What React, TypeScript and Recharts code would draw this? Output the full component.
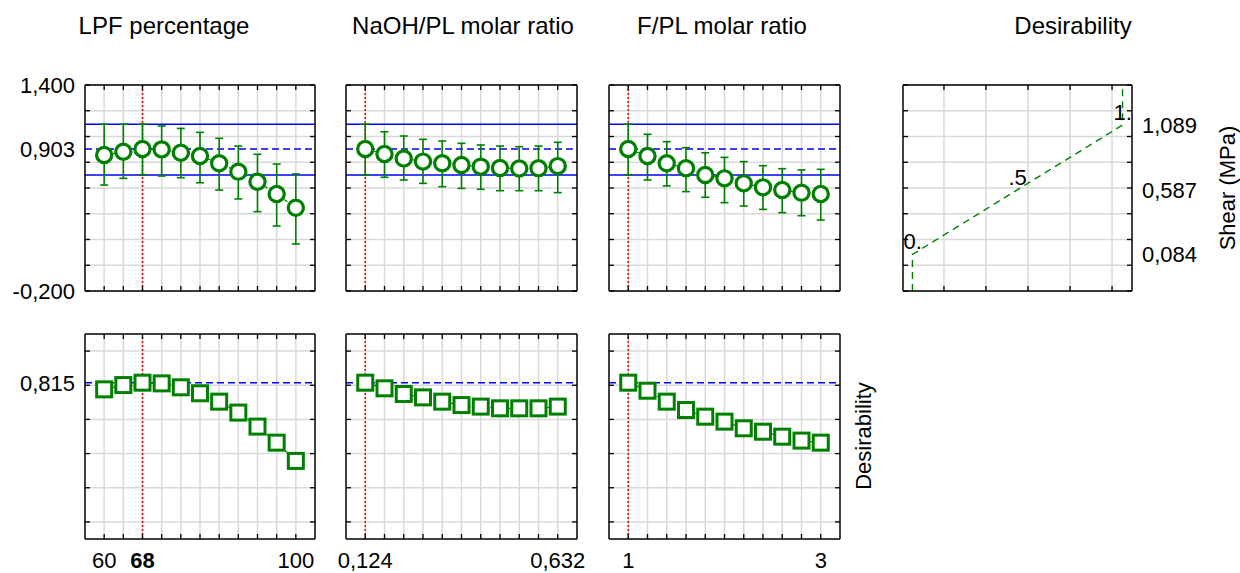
import React from 'react';
import { ComposedChart, Line, XAxis, YAxis, CartesianGrid, ReferenceLine, ErrorBar, Scatter } from 'recharts';

const FONT = 'Arial, "Liberation Sans", Helvetica, sans-serif';
const GREEN = '#008000';
const BLUE = '#0000ff';
const RED = '#ff0000';
const GRID = '#d9d9d9';

// ---------- data ----------
const lpfX = [60, 64, 68, 72, 76, 80, 84, 88, 92, 96, 100];
const lpfShear = [0.856, 0.882, 0.903, 0.900, 0.874, 0.849, 0.792, 0.727, 0.649, 0.553, 0.447];
const lpfShearLow = [0.623, 0.675, 0.701, 0.693, 0.680, 0.641, 0.584, 0.515, 0.416, 0.305, 0.165];
const lpfShearHigh = [1.095, 1.095, 1.096, 1.082, 1.063, 1.032, 0.986, 0.926, 0.862, 0.786, 0.709];
const lpfDesir = [0.776, 0.801, 0.815, 0.811, 0.788, 0.753, 0.704, 0.640, 0.558, 0.464, 0.357];

const naohX = [0.124, 0.1748, 0.2256, 0.2764, 0.3272, 0.378, 0.4288, 0.4796, 0.5304, 0.5812, 0.632];
const naohShear = [0.903, 0.864, 0.830, 0.805, 0.792, 0.779, 0.766, 0.755, 0.752, 0.754, 0.770];
const naohShearLow = [0.701, 0.683, 0.662, 0.636, 0.610, 0.597, 0.590, 0.579, 0.579, 0.579, 0.564];
const naohShearHigh = [1.096, 1.037, 1.004, 0.978, 0.965, 0.947, 0.934, 0.926, 0.921, 0.926, 0.955];
const naohDesir = [0.815, 0.782, 0.749, 0.729, 0.704, 0.684, 0.675, 0.665, 0.665, 0.665, 0.675];

const fplX = [1, 1.2, 1.4, 1.6, 1.8, 2, 2.2, 2.4, 2.6, 2.8, 3];
const fplShear = [0.903, 0.849, 0.792, 0.753, 0.701, 0.675, 0.636, 0.605, 0.584, 0.564, 0.553];
const fplShearLow = [0.701, 0.662, 0.616, 0.572, 0.528, 0.486, 0.460, 0.434, 0.408, 0.385, 0.351];
const fplShearHigh = [1.096, 1.017, 0.960, 0.913, 0.874, 0.838, 0.805, 0.773, 0.750, 0.740, 0.745];
const fplDesir = [0.815, 0.768, 0.704, 0.655, 0.616, 0.587, 0.548, 0.528, 0.499, 0.476, 0.464];

const lpfLabelValues = [60, 68, 100];
const lpfLabelTexts = ['60', '68', '100'];
const lpfLabelBold = [false, true, false];
const naohLabelValues = [0.124, 0.632];
const naohLabelTexts = ['0,124', '0,632'];
const fplLabelValues = [1, 3];
const fplLabelTexts = ['1', '3'];

const optLpf = 68;
const optNaoh = 0.124;
const optFpl = 1;

const shearDomain: [number, number] = [-0.2, 1.4];
const shearGrid = [-0.2, 0, 0.2, 0.4, 0.6, 0.8, 1.0, 1.2, 1.4];
const shearLeftLabels = [-0.2, 0.903, 1.4];
const shearOpt = 0.903;
const shearCiLow = 0.701;
const shearCiHigh = 1.096;

const desirDomain: [number, number] = [-0.1, 1.1];
const desirGrid = [0, 0.2, 0.4, 0.6, 0.8, 1.0];
const desirLeftLabels = [0.815];
const desirOpt = 0.815;

const desirFnDomain: [number, number] = [-0.045, 1.045];
const desirFnGridX = [0.15, 0.35, 0.55, 0.75, 0.95];
const desirFnX = [0, 0, 1, 1];
const desirFnShear = [-0.2, 0.084, 1.089, 1.4];
const desirFnLabelX = [0, 0.5, 1];
const desirFnLabelShear = [0.084, 0.587, 1.089];
const desirFnLabelTexts = ['0.', '.5', '1.'];
const shearRightLabels = [0.084, 0.587, 1.089];

// ---------- helpers ----------
const fmt = (v: number) => v.toFixed(3).replace('.', ',');
const near = (a: number, b: number) => Math.abs(a - b) < 1e-7;
const uniqSorted = (arr: number[]) => {
  const out: number[] = [];
  [...arr].sort((a, b) => a - b).forEach((v) => { if (!out.some((o) => near(o, v))) out.push(v); });
  return out;
};

type Lab = { v: number; t: string; bold?: boolean };

const mkShearRows = (xs: number[], ys: number[], lo: number[], hi: number[]) =>
  xs.map((x, i) => ({ x, y: ys[i], err: [ys[i] - lo[i], hi[i] - ys[i]] }));
const mkDesRows = (xs: number[], ys: number[]) => xs.map((x, i) => ({ x, y: ys[i] }));

const TICK_FS = 22;
const TL = 5;

const bottomTick = (grid: number[], labels: Lab[]) => (p: any) => {
  const v = p.payload.value;
  const g = grid.some((q) => near(q, v));
  const lab = labels.find((l) => near(l.v, v));
  return (
    <g>
      {g && <line x1={p.x} x2={p.x} y1={p.y} y2={p.y - TL} stroke="#000" strokeWidth={1.3} />}
      {lab && (
        <text x={p.x} y={p.y + 29} textAnchor="middle" fontSize={TICK_FS} fontFamily={FONT}
          fontWeight={lab.bold ? 'bold' : 'normal'} fill="#000">{lab.t}</text>
      )}
    </g>
  );
};
const topTick = (grid: number[]) => (p: any) => {
  const v = p.payload.value;
  const g = grid.some((q) => near(q, v));
  return <g>{g && <line x1={p.x} x2={p.x} y1={p.y} y2={p.y + TL} stroke="#000" strokeWidth={1.3} />}</g>;
};
const leftTick = (grid: number[], labels: Lab[]) => (p: any) => {
  const v = p.payload.value;
  const g = grid.some((q) => near(q, v));
  const lab = labels.find((l) => near(l.v, v));
  return (
    <g>
      {g && <line x1={p.x} x2={p.x + TL} y1={p.y} y2={p.y} stroke="#000" strokeWidth={1.3} />}
      {lab && (
        <text x={p.x - 10} y={p.y + 8} textAnchor="end" fontSize={TICK_FS} fontFamily={FONT} fill="#000">{lab.t}</text>
      )}
    </g>
  );
};
const rightTick = (grid: number[], labels: Lab[]) => (p: any) => {
  const v = p.payload.value;
  const g = grid.some((q) => near(q, v));
  const lab = labels.find((l) => near(l.v, v));
  return (
    <g>
      {g && <line x1={p.x} x2={p.x - TL} y1={p.y} y2={p.y} stroke="#000" strokeWidth={1.3} />}
      {lab && (
        <text x={p.x + 10} y={p.y + 8} textAnchor="start" fontSize={TICK_FS} fontFamily={FONT} fill="#000">{lab.t}</text>
      )}
    </g>
  );
};

const circleDot = (p: any) => (
  <circle key={`c${p.index}`} cx={p.cx} cy={p.cy} r={7.6} fill="#fff" stroke={GREEN} strokeWidth={3.2} />
);
const squareDot = (p: any) => (
  <rect key={`s${p.index}`} x={p.cx - 7.5} y={p.cy - 7.5} width={15} height={15} fill="#fff" stroke={GREEN} strokeWidth={3} />
);

type PanelProps = {
  fx: number; fy: number; fw: number; fh: number;
  data: any[];
  xDomain: [number, number]; xGrid: number[]; xLabels: Lab[];
  yDomain: [number, number]; yGrid: number[]; yLeft: Lab[]; yRight: Lab[];
  children?: React.ReactNode;
};

const AXIS_LINE = { stroke: '#000', strokeWidth: 1.5 };

function Panel(props: PanelProps) {
  const { fx, fy, fw, fh, data, xDomain, xGrid, xLabels, yDomain, yGrid, yLeft, yRight, children } = props;
  const padL = 85, padR = 105, padT = 20, padB = 40;
  const W = fw + padL + padR;
  const H = fh + padT + padB;
  const xTicks = uniqSorted([...xGrid, ...xLabels.map((l) => l.v)]);
  const yTicksL = uniqSorted([...yGrid, ...yLeft.map((l) => l.v)]);
  const yTicksR = uniqSorted([...yGrid, ...yRight.map((l) => l.v)]);
  return (
    <div style={{ position: 'absolute', left: fx - padL, top: fy - padT, width: W, height: H }}>
      <ComposedChart width={W} height={H} data={data} margin={{ top: 0, right: 0, bottom: 0, left: 0 }}>
        <CartesianGrid xAxisId="b" yAxisId="l" stroke={GRID} strokeWidth={1.5}
          horizontalValues={yGrid} verticalValues={xGrid} />
        <XAxis xAxisId="b" orientation="bottom" type="number" dataKey="x" domain={xDomain} allowDataOverflow
          ticks={xTicks} interval={0} height={padB} tickSize={0} tickMargin={0} tickLine={false}
          axisLine={AXIS_LINE} tick={bottomTick(xGrid, xLabels)} />
        <XAxis xAxisId="t" orientation="top" type="number" dataKey="x" domain={xDomain} allowDataOverflow
          ticks={xGrid} interval={0} height={padT} tickSize={0} tickMargin={0} tickLine={false}
          axisLine={AXIS_LINE} tick={topTick(xGrid)} />
        <YAxis yAxisId="l" orientation="left" type="number" domain={yDomain} allowDataOverflow
          ticks={yTicksL} interval={0} width={padL} tickSize={0} tickMargin={0} tickLine={false}
          axisLine={AXIS_LINE} tick={leftTick(yGrid, yLeft)} />
        <YAxis yAxisId="r" orientation="right" type="number" domain={yDomain} allowDataOverflow
          ticks={yTicksR} interval={0} width={padR} tickSize={0} tickMargin={0} tickLine={false}
          axisLine={AXIS_LINE} tick={rightTick(yGrid, yRight)} />
        {children}
      </ComposedChart>
    </div>
  );
}

function shearSeries(rows: any[], optX: number) {
  return [
    <ReferenceLine key="ciH" xAxisId="b" yAxisId="l" y={shearCiHigh} stroke={BLUE} strokeWidth={1.5} />,
    <ReferenceLine key="ciL" xAxisId="b" yAxisId="l" y={shearCiLow} stroke={BLUE} strokeWidth={1.5} />,
    <ReferenceLine key="opt" xAxisId="b" yAxisId="l" y={shearOpt} stroke={BLUE} strokeWidth={1.5} strokeDasharray="7 4" />,
    <ReferenceLine key="optx" xAxisId="b" yAxisId="l" x={optX} stroke={RED} strokeWidth={1.5} strokeDasharray="2 2" />,
    <Line key="eb" xAxisId="b" yAxisId="l" data={rows} dataKey="y" stroke="none" dot={false} activeDot={false} isAnimationActive={false}>
      <ErrorBar dataKey="err" width={4} strokeWidth={1.6} stroke={GREEN} direction="y" />
    </Line>,
    <Line key="pts" xAxisId="b" yAxisId="l" data={rows} dataKey="y" stroke="none" dot={circleDot} activeDot={false} isAnimationActive={false} />,
    <Line key="ln" xAxisId="b" yAxisId="l" data={rows} dataKey="y" stroke={GREEN} strokeWidth={1.2} strokeDasharray="4 4" dot={false} activeDot={false} isAnimationActive={false} />,
  ];
}

function desirSeries(rows: any[], optX: number) {
  return [
    <ReferenceLine key="opt" xAxisId="b" yAxisId="l" y={desirOpt} stroke={BLUE} strokeWidth={1.5} strokeDasharray="7 4" />,
    <ReferenceLine key="optx" xAxisId="b" yAxisId="l" x={optX} stroke={RED} strokeWidth={1.5} strokeDasharray="2 2" />,
    <Line key="pts" xAxisId="b" yAxisId="l" data={rows} dataKey="y" stroke="none" dot={squareDot} activeDot={false} isAnimationActive={false} />,
    <Line key="ln" xAxisId="b" yAxisId="l" data={rows} dataKey="y" stroke={GREEN} strokeWidth={1.2} strokeDasharray="4 4" dot={false} activeDot={false} isAnimationActive={false} />,
  ];
}

const labelShape = (p: any) => (
  <text x={p.cx - 9} y={p.cy - 5} textAnchor="start" fontSize={22} fontFamily={FONT} fill="#000">{p.payload.t}</text>
);

export default function App() {
  const lpfRows = mkShearRows(lpfX, lpfShear, lpfShearLow, lpfShearHigh);
  const naohRows = mkShearRows(naohX, naohShear, naohShearLow, naohShearHigh);
  const fplRows = mkShearRows(fplX, fplShear, fplShearLow, fplShearHigh);
  const lpfDRows = mkDesRows(lpfX, lpfDesir);
  const naohDRows = mkDesRows(naohX, naohDesir);
  const fplDRows = mkDesRows(fplX, fplDesir);
  const fnRows = desirFnX.map((x, i) => ({ x, s: desirFnShear[i] }));
  const fnLabelRows = desirFnLabelX.map((x, i) => ({ x, s: desirFnLabelShear[i], t: desirFnLabelTexts[i] }));

  const lpfLabs: Lab[] = lpfLabelValues.map((v, i) => ({ v, t: lpfLabelTexts[i], bold: lpfLabelBold[i] }));
  const naohLabs: Lab[] = naohLabelValues.map((v, i) => ({ v, t: naohLabelTexts[i] }));
  const fplLabs: Lab[] = fplLabelValues.map((v, i) => ({ v, t: fplLabelTexts[i] }));
  const shearLeft: Lab[] = shearLeftLabels.map((v) => ({ v, t: fmt(v) }));
  const desLeft: Lab[] = desirLeftLabels.map((v) => ({ v, t: fmt(v) }));
  const shearRight: Lab[] = shearRightLabels.map((v) => ({ v, t: fmt(v) }));

  const lpfDom: [number, number] = [56, 104];
  const naohDom: [number, number] = [0.124 - 0.0508, 0.632 + 0.0508];
  const fplDom: [number, number] = [0.8, 3.2];

  const topY = 85, topH = 206, botY = 334, botH = 205;
  const cols = [
    { x: 85, w: 230 },
    { x: 346, w: 231 },
    { x: 609, w: 231 },
  ];

  return (
    <div style={{ position: 'absolute', left: 0, top: 0, width: 1240, height: 573, overflow: 'hidden', background: '#fff', fontFamily: FONT }}>
      <svg width={1240} height={573} style={{ position: 'absolute', left: 0, top: 0 }}>
        <text x={164} y={34} textAnchor="middle" fontSize={24} fontFamily={FONT} fill="#000">LPF percentage</text>
        <text x={463} y={34} textAnchor="middle" fontSize={24} fontFamily={FONT} fill="#000">NaOH/PL molar ratio</text>
        <text x={722} y={34} textAnchor="middle" fontSize={24} fontFamily={FONT} fill="#000">F/PL molar ratio</text>
        <text x={1073} y={34} textAnchor="middle" fontSize={24} fontFamily={FONT} fill="#000">Desirability</text>
        <text transform="translate(1235,188) rotate(-90)" textAnchor="middle" fontSize={22} fontFamily={FONT} fill="#000">Shear (MPa)</text>
        <text transform="translate(871,436) rotate(-90)" textAnchor="middle" fontSize={22} fontFamily={FONT} fill="#000">Desirability</text>
      </svg>

      <Panel fx={cols[0].x} fy={topY} fw={cols[0].w} fh={topH} data={lpfRows}
        xDomain={lpfDom} xGrid={lpfX} xLabels={[]} yDomain={shearDomain} yGrid={shearGrid} yLeft={shearLeft} yRight={[]}>
        {shearSeries(lpfRows, optLpf)}
      </Panel>
      <Panel fx={cols[1].x} fy={topY} fw={cols[1].w} fh={topH} data={naohRows}
        xDomain={naohDom} xGrid={naohX} xLabels={[]} yDomain={shearDomain} yGrid={shearGrid} yLeft={[]} yRight={[]}>
        {shearSeries(naohRows, optNaoh)}
      </Panel>
      <Panel fx={cols[2].x} fy={topY} fw={cols[2].w} fh={topH} data={fplRows}
        xDomain={fplDom} xGrid={fplX} xLabels={[]} yDomain={shearDomain} yGrid={shearGrid} yLeft={[]} yRight={[]}>
        {shearSeries(fplRows, optFpl)}
      </Panel>
      <Panel fx={903} fy={topY} fw={229} fh={topH} data={fnRows}
        xDomain={desirFnDomain} xGrid={desirFnGridX} xLabels={[]} yDomain={shearDomain} yGrid={shearGrid} yLeft={[]} yRight={shearRight}>
        <Line xAxisId="b" yAxisId="l" data={fnRows} dataKey="s" stroke={GREEN} strokeWidth={1.4} strokeDasharray="7 5"
          dot={false} activeDot={false} isAnimationActive={false} />
        <Scatter xAxisId="b" yAxisId="l" data={fnLabelRows} dataKey="s" shape={labelShape} isAnimationActive={false} />
      </Panel>

      <Panel fx={cols[0].x} fy={botY} fw={cols[0].w} fh={botH} data={lpfDRows}
        xDomain={lpfDom} xGrid={lpfX} xLabels={lpfLabs} yDomain={desirDomain} yGrid={desirGrid} yLeft={desLeft} yRight={[]}>
        {desirSeries(lpfDRows, optLpf)}
      </Panel>
      <Panel fx={cols[1].x} fy={botY} fw={cols[1].w} fh={botH} data={naohDRows}
        xDomain={naohDom} xGrid={naohX} xLabels={naohLabs} yDomain={desirDomain} yGrid={desirGrid} yLeft={[]} yRight={[]}>
        {desirSeries(naohDRows, optNaoh)}
      </Panel>
      <Panel fx={cols[2].x} fy={botY} fw={cols[2].w} fh={botH} data={fplDRows}
        xDomain={fplDom} xGrid={fplX} xLabels={fplLabs} yDomain={desirDomain} yGrid={desirGrid} yLeft={[]} yRight={[]}>
        {desirSeries(fplDRows, optFpl)}
      </Panel>
    </div>
  );
}
